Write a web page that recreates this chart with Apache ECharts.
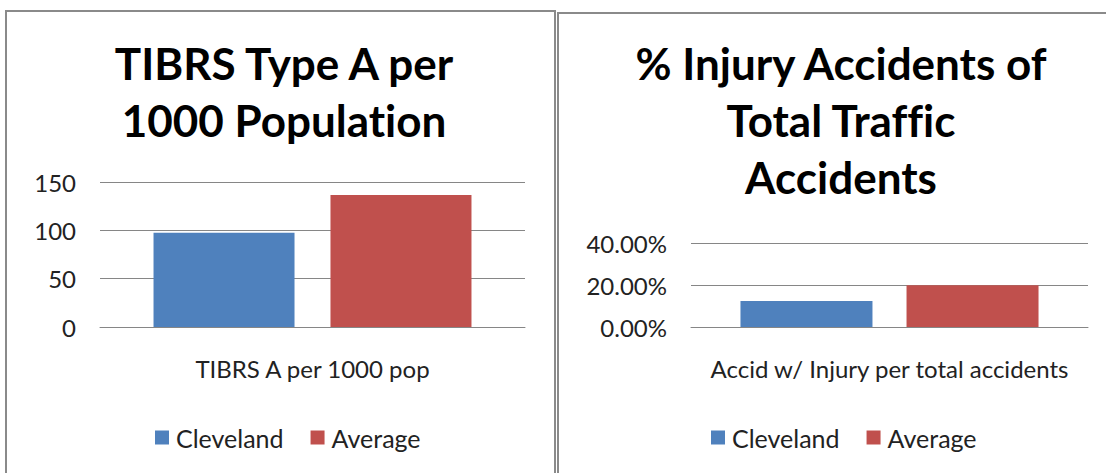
<!DOCTYPE html>
<html><head><meta charset="utf-8">
<script src="https://cdn.jsdelivr.net/npm/echarts@6/dist/echarts.min.js"></script>
<style>
html,body{margin:0;padding:0;background:#fff}
#c{width:1106px;height:473px}
#c text{font-variant-ligatures:none !important;font-feature-settings:"liga" 0,"clig" 0 !important}
</style>
</head><body><div id="c"></div>
<script>
const seriesNames = ['Cleveland', 'Average'];
const leftCategories = ['TIBRS A per 1000 pop'];
const leftCleveland = [97.5];
const leftAverage = [136.5];
const leftTicks = [0, 50, 100, 150];
const rightCategories = ['Accid w/ Injury per total accidents'];
const rightCleveland = [0.124];
const rightAverage = [0.199];
const rightTicks = [0, 0.2, 0.4];
const leftTitle = 'TIBRS Type A per\n1000 Population';
const rightTitle = '% Injury Accidents of\nTotal Traffic\nAccidents';

const FONT = 'Lato';
const BLUE = '#4F81BD', RED = '#C0504D', GRID = '#868686';
const chart = echarts.init(document.getElementById('c'), null, {renderer: 'svg'});

function yAxis(idx, ticks, fmt) {
  return {
    type: 'value', gridIndex: idx,
    min: ticks[0], max: ticks[ticks.length - 1], interval: ticks[1] - ticks[0],
    axisLine: {show: false}, axisTick: {show: false},
    splitLine: {lineStyle: {color: GRID, width: 1}},
    axisLabel: {color: '#222', fontFamily: FONT, fontSize: 24, margin: 24, formatter: fmt}
  };
}
function xAxis(idx, cats) {
  return {
    type: 'category', gridIndex: idx, data: cats,
    axisLine: {lineStyle: {color: GRID, width: 1}}, axisTick: {show: false},
    axisLabel: {color: '#222', fontFamily: FONT, fontSize: 24, margin: 29}
  };
}
function legend(left) {
  return {
    data: seriesNames, left: left, top: 425, padding: 0, icon: 'rect',
    itemWidth: 14, itemHeight: 14, itemGap: 27,
    textStyle: {color: '#222', fontFamily: FONT, fontSize: 25, padding: [0, 0, 0, 2]}
  };
}

chart.setOption({
  animation: false,
  backgroundColor: '#fff',
  color: [BLUE, RED],
  graphic: [
    {type: 'rect', shape: {x: 6, y: 11, width: 549, height: 480}, style: {fill: 'none', stroke: '#8a8a8a', lineWidth: 2}, z: 0},
    {type: 'rect', shape: {x: 558, y: 13, width: 560, height: 480}, style: {fill: 'none', stroke: '#8a8a8a', lineWidth: 2}, z: 0}
  ],
  title: [
    {text: leftTitle, left: 279, top: 29, textAlign: 'center',
     textStyle: {fontFamily: FONT, fontWeight: 'bold', fontSize: 44, lineHeight: 57, color: '#000'}},
    {text: rightTitle, left: 836, top: 29, textAlign: 'center',
     textStyle: {fontFamily: FONT, fontWeight: 'bold', fontSize: 44, lineHeight: 57, color: '#000'}}
  ],
  legend: [legend(155), legend(711)],
  grid: [
    {left: 100, right: 1106 - 525, top: 182, bottom: 473 - 327},
    {left: 691, right: 1106 - 1088, top: 243, bottom: 473 - 327}
  ],
  xAxis: [xAxis(0, leftCategories), xAxis(1, rightCategories)],
  yAxis: [
    yAxis(0, leftTicks, v => String(v)),
    yAxis(1, rightTicks, v => (v * 100).toFixed(2) + '%')
  ],
  series: [
    {name: seriesNames[0], type: 'bar', xAxisIndex: 0, yAxisIndex: 0, data: leftCleveland, barWidth: 141, barGap: '25.5%', itemStyle: {color: BLUE}},
    {name: seriesNames[1], type: 'bar', xAxisIndex: 0, yAxisIndex: 0, data: leftAverage, barWidth: 141, barGap: '25.5%', itemStyle: {color: RED}},
    {name: seriesNames[0], type: 'bar', xAxisIndex: 1, yAxisIndex: 1, data: rightCleveland, barWidth: 132, barGap: '25.8%', itemStyle: {color: BLUE}},
    {name: seriesNames[1], type: 'bar', xAxisIndex: 1, yAxisIndex: 1, data: rightAverage, barWidth: 132, barGap: '25.8%', itemStyle: {color: RED}}
  ]
});
</script></body></html>
